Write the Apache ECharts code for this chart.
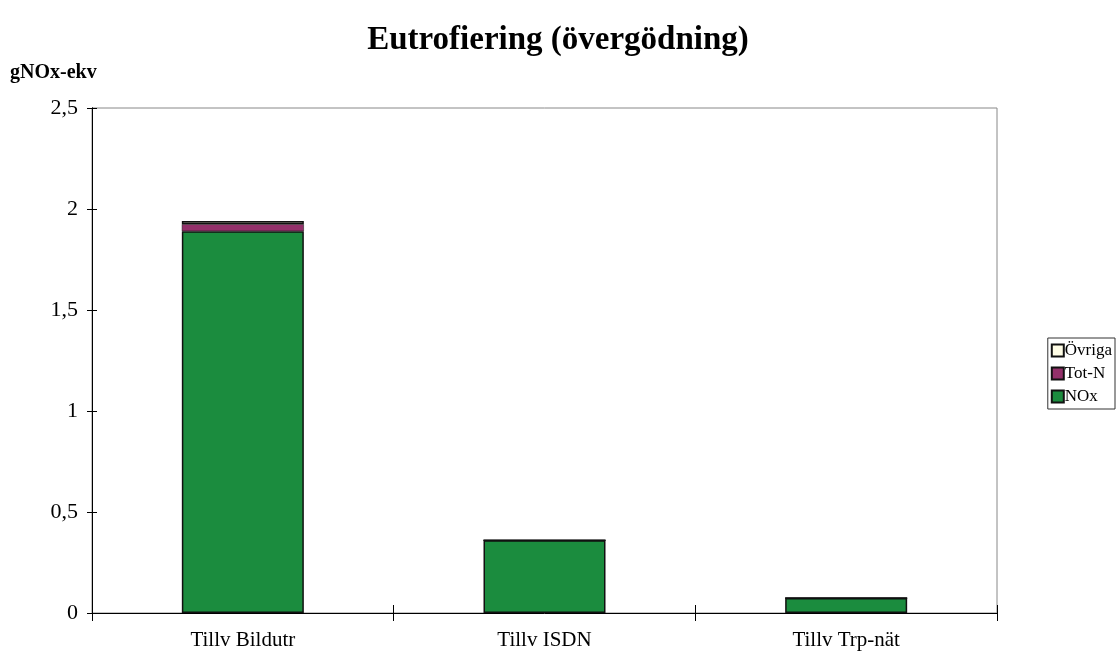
<!DOCTYPE html>
<html>
<head>
<meta charset="utf-8">
<script src="https://cdn.jsdelivr.net/npm/echarts@6/dist/echarts.min.js"></script>
<style>html,body{margin:0;padding:0;background:#fff}#c{width:1116px;height:660px}</style>
</head>
<body>
<div id="c"></div>
<script>
var categories = ['Tillv Bildutr', 'Tillv ISDN', 'Tillv Trp-nät'];
var noxValues = [1.89, 0.36, 0.074];
var totNValues = [0.035, 0, 0];
var ovrigaValues = [0.015, 0, 0];

var chart = echarts.init(document.getElementById('c'));
var font = '"Liberation Serif", "Times New Roman", serif';
function fmt(v){ return String(v).replace('.', ','); }
var barBase = {type:'bar', stack:'s', barWidth:122, xAxisIndex:0, yAxisIndex:0};
chart.setOption({
  animation:false,
  title:{text:'Eutrofiering (övergödning)', left:'center', top:19,
    textStyle:{fontFamily:font, fontSize:33, fontWeight:'bold', color:'#000'}},
  legend:{orient:'vertical', right:1, top:338, itemWidth:12, itemHeight:12, itemGap:6,
    icon:'rect', padding:[4,3,4,3], borderColor:'#333', borderWidth:1,
    data:['Övriga','Tot-N','NOx'],
    textStyle:{fontFamily:font, fontSize:17, color:'#000', padding:[0,0,0,-4]}},
  grid:{left:92, right:119, top:108, bottom:47, show:true, borderColor:'#888', borderWidth:1},
  xAxis:[{type:'category', data:categories,
    axisLine:{lineStyle:{color:'#000', width:1}},
    axisTick:{show:true, length:8, lineStyle:{color:'#000'}},
    axisLabel:{fontFamily:font, fontSize:21, color:'#000', margin:17}},
   {type:'category', data:categories, position:'bottom',
    axisLine:{show:false},
    axisTick:{show:true, inside:true, length:8, lineStyle:{color:'#000'}},
    axisLabel:{show:false}}],
  yAxis:[{type:'value', min:0, max:2.5, interval:0.5, name:'gNOx-ekv',
    nameLocation:'end', nameGap:25,
    nameTextStyle:{fontFamily:font, fontSize:20, fontWeight:'bold', color:'#000', align:'left', padding:[0,0,0,-82]},
    axisLine:{show:true, lineStyle:{color:'#000'}},
    axisTick:{show:true, length:5, lineStyle:{color:'#000'}},
    axisLabel:{fontFamily:font, fontSize:22, color:'#000', margin:14, formatter:fmt},
    splitLine:{show:false}},
   {type:'value', min:0, max:2.5, interval:0.5, position:'left',
    axisLine:{show:true, lineStyle:{color:'#000'}},
    axisTick:{show:true, inside:true, length:5, lineStyle:{color:'#000'}},
    axisLabel:{show:false}, splitLine:{show:false}}],
  series:[
    Object.assign({}, barBase, {name:'NOx', data:noxValues, itemStyle:{color:'#1b8c3e', borderColor:'#111', borderWidth:1.5}}),
    Object.assign({}, barBase, {name:'Tot-N', data:totNValues, itemStyle:{color:'#93306a', borderColor:'#111', borderWidth:0.5}}),
    Object.assign({}, barBase, {name:'Övriga', data:ovrigaValues, itemStyle:{color:'#fffde6', borderColor:'#111', borderWidth:1.5}})
  ]
});
</script>
</body>
</html>
